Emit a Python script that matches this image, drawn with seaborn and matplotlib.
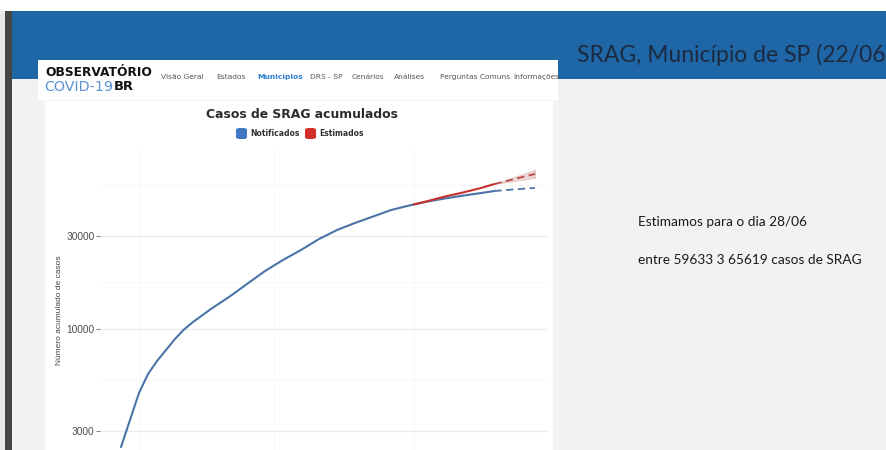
import numpy as np
import pandas as pd
import matplotlib
matplotlib.use("Agg")
import matplotlib.pyplot as plt
import seaborn as sns
from matplotlib.patches import Rectangle, FancyBboxPatch
from matplotlib.ticker import FixedLocator

# ---------------- data ----------------
notif_dates = ["2020-03-28", "2020-03-30", "2020-04-01", "2020-04-03", "2020-04-05",
               "2020-04-07", "2020-04-09", "2020-04-11", "2020-04-13",
               "2020-04-17", "2020-04-21", "2020-04-25", "2020-04-29", "2020-05-03",
               "2020-05-07", "2020-05-11", "2020-05-15", "2020-05-19", "2020-05-23",
               "2020-05-27", "2020-05-31", "2020-06-04", "2020-06-08", "2020-06-12",
               "2020-06-16", "2020-06-19"]
notif_cases = [2480, 3415, 4700, 5876, 6850, 7805, 8890, 9940, 10860,
               12670, 14590, 17010, 19830, 22590,
               25420, 28940, 32190, 34970, 37740, 40740, 42960, 44990, 46700, 48310,
               49800, 51020]

notif_proj_dates = ["2020-06-19", "2020-06-22", "2020-06-25", "2020-06-28"]
notif_proj_cases = [51020, 51700, 52300, 52880]

est_dates = ["2020-06-01", "2020-06-04", "2020-06-08", "2020-06-12", "2020-06-16", "2020-06-19"]
est_cases = [43480, 45200, 47810, 50120, 52860, 55420]

est_proj_dates = ["2020-06-19", "2020-06-22", "2020-06-25", "2020-06-28"]
est_proj_cases = [55420, 57700, 60000, 62400]
est_proj_low = [55420, 56800, 58200, 59633]
est_proj_high = [55420, 58700, 62000, 65619]

y_ticks = [3000, 10000, 30000]
y_tick_labels = ["3000", "10000", "30000"]

nav_items = ["Visão Geral", "Estados", "Municípios", "DRS - SP", "Cenários",
             "Análises", "Perguntas Comuns", "Informações"]
legend_labels = ["Notificados", "Estimados"]

# ---------------- figure ----------------
W, H = 887, 450
sns.set_theme(style="white")
plt.rcParams["font.family"] = ["DejaVu Sans"]
fig = plt.figure(figsize=(W / 100, H / 100), dpi=100, facecolor="#f2f2f2")


def rect(x, y, w, h, color, z=-5):
    fig.add_artist(Rectangle((x / W, 1 - (y + h) / H), w / W, h / H,
                             transform=fig.transFigure, facecolor=color,
                             edgecolor="none", zorder=z))


def T(x, y, s, **kw):
    kw.setdefault("va", "center")
    return fig.text(x / W, 1 - y / H, s, **kw)


# slide background pieces
rect(0, 0, W, 11, "white")
rect(0, 11, 5, H - 11, "#e9e9e9")
rect(5, 11, 7, H - 11, "#454545")
rect(12, 11, W - 12, 68, "#1f66a7")
# website screenshot
rect(38, 60, 520, 390, "#f3f3f3", z=-4)
rect(38, 60, 520, 40, "white", z=-3)
rect(45, 101, 508, 349, "white", z=-3)

# slide title and text
T(577, 55, "SRAG, Município de SP (22/06", fontsize=16.5, color="#1b2a40",
  family="Lato", ha="left")
T(638, 222, "Estimamos para o dia 28/06", fontsize=9.8, color="#1a1a1a",
  family="Lato", ha="left")
T(638, 260, "entre 59633 3 65619 casos de SRAG", fontsize=9.8, color="#1a1a1a",
  family="Lato", ha="left")

# website header
T(45, 73, "OBSERVATÓRIO", fontsize=8.8, fontweight="heavy", color="#111111",
  family="DejaVu Sans", ha="left")
T(44, 87, "COVID-19", fontsize=10.3, color="#5a93d0", family="DejaVu Sans",
  ha="left")
T(114, 87, "BR", fontsize=9.4, fontweight="heavy", color="#111111",
  family="DejaVu Sans", ha="left")
nav_x = [161, 216, 257, 310, 352, 394, 440, 513]
for nx, item in zip(nav_x, nav_items):
    is_active = item == "Municípios"
    T(nx, 77, item, fontsize=5.4, family="DejaVu Sans", ha="left",
      color="#2f7fcf" if is_active else "#555555",
      fontweight="bold" if is_active else "normal")

# chart title and legend
T(302, 114, "Casos de SRAG acumulados", fontsize=8.9, color="#2b2b2b",
  family="DejaVu Sans", ha="center", fontweight="bold")
blue = "#4a74a8"
red = "#c9302c"
for (bx, tx, lab, col) in [(236, 250, legend_labels[0], "#3f78c2"),
                           (305, 319, legend_labels[1], "#d22f2a")]:
    fig.add_artist(FancyBboxPatch((bx / W, 1 - 139 / H), 11 / W, 11 / H,
                                  boxstyle="round,pad=0,rounding_size=0.004",
                                  transform=fig.transFigure, facecolor=col,
                                  edgecolor="none", zorder=3))
    T(tx, 134, lab, fontsize=5.5, fontweight="bold", color="#333333",
      family="DejaVu Sans", ha="left")

# y-axis label
T(60, 310, "Número acumulado de casos", fontsize=6.0, color="#444444",
  rotation=90, ha="center", family="Liberation Sans")

# ---------------- plot ----------------
ax_l, ax_r, ax_t, ax_b = 100, 548, 148, 520
ax = fig.add_axes([ax_l / W, 1 - ax_b / H, (ax_r - ax_l) / W, (ax_b - ax_t) / H],
                  zorder=2)
ax.set_facecolor("white")
ax.patch.set_alpha(0)

df_n = pd.DataFrame({"data": pd.to_datetime(notif_dates), "casos": notif_cases})
df_np = pd.DataFrame({"data": pd.to_datetime(notif_proj_dates), "casos": notif_proj_cases})
df_e = pd.DataFrame({"data": pd.to_datetime(est_dates), "casos": est_cases})
df_ep = pd.DataFrame({"data": pd.to_datetime(est_proj_dates), "casos": est_proj_cases,
                      "low": est_proj_low, "high": est_proj_high})

ax.fill_between(df_ep["data"], df_ep["low"], df_ep["high"], color="#e3b3b3",
                alpha=0.55, lw=0.6, edgecolor="#c9a0a0", zorder=2)
sns.lineplot(data=df_n, x="data", y="casos", ax=ax, color=blue, lw=1.5, zorder=3)
sns.lineplot(data=df_np, x="data", y="casos", ax=ax, color=blue, lw=1.3,
             linestyle=(0, (4, 2.5)), zorder=3)
sns.lineplot(data=df_e, x="data", y="casos", ax=ax, color=red, lw=1.5, zorder=4)
sns.lineplot(data=df_ep, x="data", y="casos", ax=ax, color="#b84a4a", lw=1.3,
             linestyle=(0, (4, 2.5)), zorder=4)

ax.set_yscale("log")
# 195 px per decade, 10000 at pixel row 329
ymax = 10 ** (4 + (329 - ax_t) / 195)
ymin = 10 ** (4 - (ax_b - 329) / 195)
ax.set_ylim(ymin, ymax)
end = pd.Timestamp("2020-06-28")
px_day = 4.5
ax.set_xlim(end - pd.Timedelta(days=(535 - ax_l) / px_day),
            end + pd.Timedelta(days=(ax_r - 535) / px_day))

ax.yaxis.set_major_locator(FixedLocator(y_ticks))
ax.set_yticklabels(y_tick_labels)
ax.yaxis.set_minor_locator(FixedLocator([5477, 17320, 54772]))
ax.tick_params(axis="y", which="major", length=3, width=0.8, color="#888888",
               labelsize=7.3, labelcolor="#4d4d4d", pad=1, left=True)
ax.tick_params(axis="y", which="minor", length=0)
for lab in ax.get_yticklabels():
    lab.set_family("Liberation Sans")
ax.set_xticks(pd.to_datetime(["2020-04-01", "2020-05-01", "2020-06-01"]))
ax.tick_params(axis="x", length=0, labelbottom=False)
ax.grid(axis="y", which="major", color="#ebebeb", lw=0.9)
ax.grid(axis="y", which="minor", color="#f6f6f6", lw=0.6)
ax.grid(axis="x", which="major", color="#f7f7f7", lw=0.6)
ax.set_xlabel("")
ax.set_ylabel("")
for s in ax.spines.values():
    s.set_visible(False)

fig.savefig("out.png", dpi=100, facecolor=fig.get_facecolor())
